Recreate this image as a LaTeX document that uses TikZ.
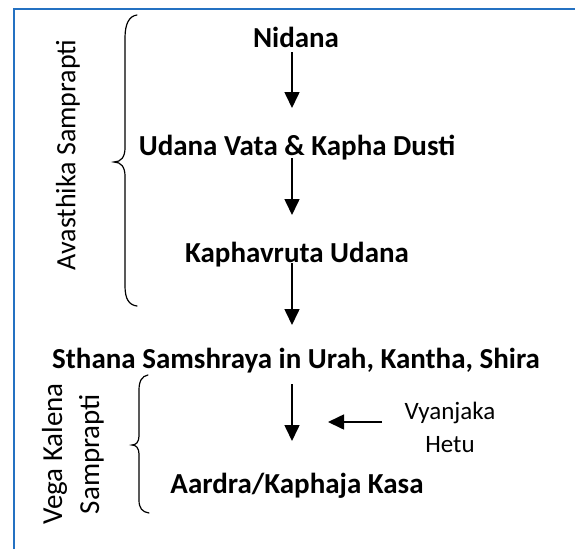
\documentclass[tikz,border=0pt]{standalone}
\usepackage{fontspec}
\setmainfont{Carlito}
\usetikzlibrary{arrows.meta}
\definecolor{frameblue}{RGB}{36,113,194}
\tikzset{
  bold/.style={font=\fontsize{29}{34}\selectfont\bfseries, inner sep=0pt, anchor=base},
  plain/.style={font=\fontsize{25}{33}\selectfont, inner sep=0pt},
  side/.style={font=\fontsize{28}{37}\selectfont, inner sep=0pt, rotate=90},
  flow/.style={line width=1.6pt, -{Triangle[length=16pt,width=15pt]}},
  bracestyle/.style={line width=1.2pt, line cap=round},
}
\begin{document}
\begin{tikzpicture}[x=1pt,y=-1pt]
\useasboundingbox (0,0) rectangle (575,549);
\fill[white] (0,0) rectangle (575,549);
\draw[frameblue, line width=1.8pt] (14,549) -- (14,9) -- (575,9);

\node[bold] (nidana) at (296,47) {Nidana};
\node[bold] (udana) at (297,155) {Udana Vata \& Kapha Dusti};
\node[bold] (kaph) at (297,262) {Kaphavruta Udana};
\node[bold] (sthana) at (296,368) {Sthana Samshraya in Urah, Kantha, Shira};
\node[bold] (aardra) at (297,493) {Aardra/Kaphaja Kasa};
\node[plain, align=center] (vyan) at (450,427) {Vyanjaka\\Hetu};

\node[side] (avas) at (68,155) {Avasthika Samprapti};
\node[side, align=center, font=\fontsize{29}{37}\selectfont] (vega) at (73,454) {Vega Kalena\\Samprapti};

\coordinate (a1s) at (292,52);  \coordinate (a1e) at (292,108);
\coordinate (a2s) at (292,158); \coordinate (a2e) at (292,215);
\coordinate (a3s) at (292,263); \coordinate (a3e) at (292,325);
\coordinate (a4s) at (292,384); \coordinate (a4e) at (292,441);
\coordinate (a5s) at (382,422); \coordinate (a5e) at (328,422);
\draw[flow] (a1s) -- (a1e);
\draw[flow] (a2s) -- (a2e);
\draw[flow] (a3s) -- (a3e);
\draw[flow] (a4s) -- (a4e);
\draw[flow] (a5s) -- (a5e);

% braces
\draw[bracestyle] (137,15) .. controls (129,16) and (125,24) .. (125,38) -- (125,148)
  .. controls (125,157) and (121,162) .. (114,162)
  .. controls (121,162) and (125,167) .. (125,176) -- (125,286)
  .. controls (125,299) and (129,305) .. (137,306);
\draw[bracestyle] (148,375) .. controls (142,376) and (139,381) .. (139,390) -- (139,436)
  .. controls (139,442) and (136,445) .. (132,445)
  .. controls (136,445) and (139,448) .. (139,454) -- (139,500)
  .. controls (139,508) and (142,512) .. (149,513);
\end{tikzpicture}
\end{document}
